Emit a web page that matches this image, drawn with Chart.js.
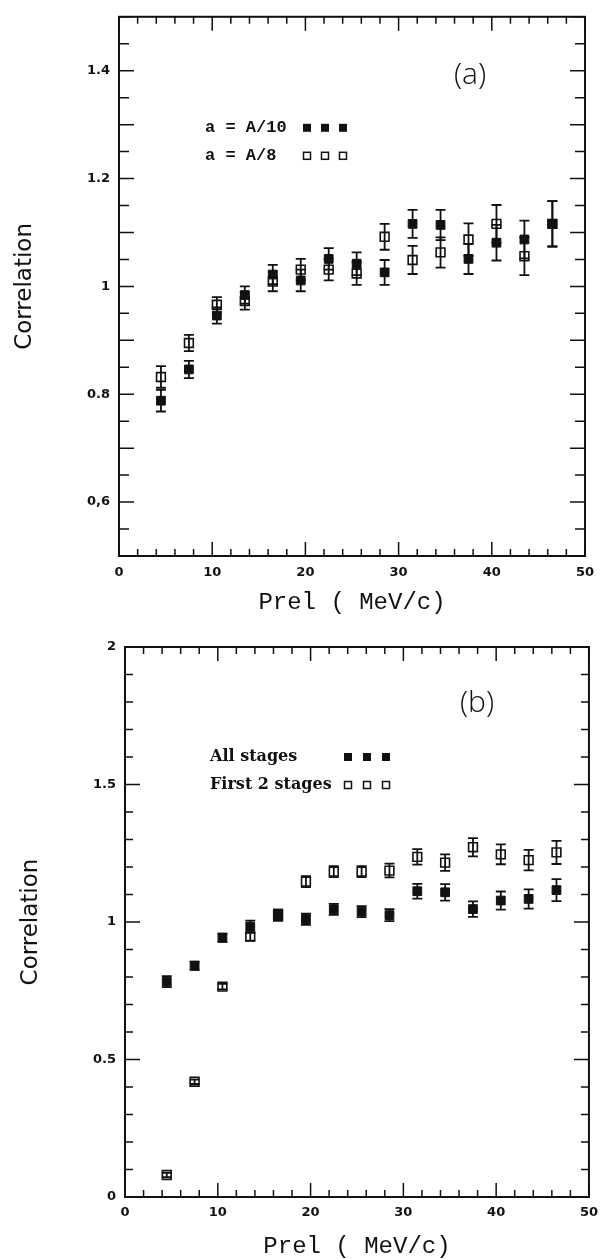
<!DOCTYPE html>
<html>
<head>
<meta charset="utf-8">
<script src="https://cdn.jsdelivr.net/npm/chart.js@4.4.0/dist/chart.umd.min.js"></script>
<style>
  body { margin: 0; background: #fff; }
  #wrap { position: relative; width: 606px; height: 1259px; }
  canvas { position: absolute; left: 0; }
</style>
</head>
<body>
<div id="wrap">
  <canvas id="graficaA" width="606" height="628" style="top:0"></canvas>
  <canvas id="graficaB" width="606" height="631" style="top:628px"></canvas>
</div>
<script>
// momento relativo (MeV/c), igual para todas las series
const prel = [4.5, 7.5, 10.5, 13.5, 16.5, 19.5, 22.5, 25.5, 28.5, 31.5, 34.5, 37.5, 40.5, 43.5, 46.5]

// panel (a)
const seriesA = ['a = A/10', 'a = A/8']
const a10 = [0.788, 0.846, 0.946, 0.984, 1.022, 1.011, 1.051, 1.042, 1.026, 1.116, 1.114, 1.051, 1.081, 1.087, 1.116]
const a10Err = [0.02, 0.016, 0.015, 0.016, 0.018, 0.02, 0.02, 0.021, 0.023, 0.026, 0.028, 0.028, 0.033, 0.035, 0.042]
const a8 = [0.832, 0.895, 0.966, 0.973, 1.009, 1.031, 1.031, 1.024, 1.092, 1.049, 1.063, 1.087, 1.116, 1.056, 1.116]
const a8Err = [0.02, 0.015, 0.014, 0.016, 0.018, 0.02, 0.02, 0.021, 0.024, 0.026, 0.028, 0.03, 0.035, 0.035, 0.042]
const ticksA = [0.6, 0.8, 1, 1.2, 1.4]
const etiquetasA = ['0,6', '0.8', '1', '1.2', '1.4']

// panel (b)
const seriesB = ['All stages', 'First 2 stages']
const todas = [0.783, 0.841, 0.943, 0.983, 1.025, 1.010, 1.046, 1.038, 1.025, 1.112, 1.108, 1.047, 1.078, 1.084, 1.116]
const todasErr = [0.02, 0.015, 0.015, 0.022, 0.02, 0.02, 0.02, 0.02, 0.022, 0.027, 0.03, 0.028, 0.033, 0.035, 0.04]
const primeras = [0.080, 0.419, 0.765, 0.947, 1.025, 1.147, 1.183, 1.183, 1.187, 1.237, 1.216, 1.272, 1.246, 1.225, 1.253]
const primerasErr = [0.008, 0.008, 0.01, 0.015, 0.02, 0.02, 0.02, 0.02, 0.025, 0.028, 0.03, 0.033, 0.036, 0.037, 0.042]
const ticksB = [0, 0.5, 1, 1.5, 2]
const etiquetasB = ['0', '0.5', '1', '1.5', '2']

const negro = '#111'

function puntos(ys) {
    return ys.map((y, i) => ({ x: prel[i], y: y }))
}

// marco con marcas hacia dentro, barras de error, leyenda y letra del panel
const marco = {
    id: 'marco',
    beforeDatasetsDraw(chart) {
        const ctx = chart.ctx
        const xs = chart.scales.x
        const ys = chart.scales.y
        ctx.save()
        ctx.strokeStyle = negro
        ctx.lineWidth = 1.8
        chart.data.datasets.forEach(ds => {
            ds.data.forEach((p, i) => {
                const e = ds.errores[i]
                const px = xs.getPixelForValue(p.x)
                const yt = ys.getPixelForValue(p.y + e)
                const yb = ys.getPixelForValue(p.y - e)
                ctx.beginPath()
                ctx.moveTo(px, yt)
                ctx.lineTo(px, yb)
                ctx.moveTo(px - 5, yt)
                ctx.lineTo(px + 5, yt)
                ctx.moveTo(px - 5, yb)
                ctx.lineTo(px + 5, yb)
                ctx.stroke()
            })
        })
        ctx.restore()
    },
    afterDraw(chart, args, op) {
        const ctx = chart.ctx
        const { left, right, top, bottom } = chart.chartArea
        const xs = chart.scales.x
        const ys = chart.scales.y
        ctx.save()
        ctx.strokeStyle = negro
        ctx.lineWidth = 2
        ctx.strokeRect(left, top, right - left, bottom - top)

        ctx.lineWidth = 1.5
        ctx.beginPath()
        for (let k = 0; k <= 25; k++) {
            const v = k * 2
            const px = xs.getPixelForValue(v)
            const len = v % 10 === 0 ? 14 : 7
            ctx.moveTo(px, bottom)
            ctx.lineTo(px, bottom - len)
            ctx.moveTo(px, top)
            ctx.lineTo(px, top + len)
        }
        const n = Math.round((ys.max - ys.min) / op.yPaso)
        for (let k = 0; k <= n; k++) {
            const v = ys.min + k * op.yPaso
            const r = v / op.yMayor
            const len = Math.abs(r - Math.round(r)) < 1e-6 ? 15 : op.yMenor
            const py = ys.getPixelForValue(v)
            ctx.moveTo(left, py)
            ctx.lineTo(left + len, py)
            ctx.moveTo(right, py)
            ctx.lineTo(right - len, py)
        }
        ctx.stroke()

        // leyenda
        ctx.fillStyle = negro
        ctx.font = op.fuente
        ctx.textBaseline = 'middle'
        op.textos.forEach((t, i) => {
            const y = top + op.filaY[i]
            ctx.fillText(t, left + op.textoX, y)
            op.cuadrosX.forEach(cx => {
                const x = left + cx
                if (i === 0) {
                    ctx.fillRect(x - 4, y - 4, 8, 8)
                } else {
                    ctx.lineWidth = 1.5
                    ctx.strokeRect(x - 3.5, y - 3.5, 7, 7)
                }
            })
        })

        ctx.font = '300 30px "Open Sans"'
        ctx.textAlign = 'center'
        ctx.fillText(op.letra, left + op.letraX, top + op.letraY)
        ctx.restore()
    }
}

function crearGrafica(id, cfg) {
    return new Chart(document.getElementById(id), {
        type: 'scatter',
        data: {
            datasets: [{
                data: puntos(cfg.lleno),
                errores: cfg.llenoErr,
                pointStyle: 'rect',
                pointRadius: 6.2,
                backgroundColor: negro,
                borderColor: negro,
                borderWidth: 1
            }, {
                data: puntos(cfg.abierto),
                errores: cfg.abiertoErr,
                pointStyle: 'rect',
                pointRadius: 6.2,
                backgroundColor: 'rgba(0,0,0,0)',
                borderColor: negro,
                borderWidth: 1.6
            }]
        },
        options: {
            responsive: false,
            animation: false,
            devicePixelRatio: 1,
            layout: { padding: cfg.padding },
            plugins: {
                legend: { display: false },
                tooltip: { enabled: false },
                marco: cfg.marco
            },
            scales: {
                x: {
                    type: 'linear',
                    min: 0,
                    max: 50,
                    grid: { display: false, drawTicks: false },
                    border: { display: false },
                    ticks: {
                        stepSize: 10,
                        padding: cfg.xPad,
                        color: negro,
                        font: { family: 'DejaVu Sans', size: 13, weight: 'bold' }
                    },
                    title: {
                        display: true,
                        text: 'Prel ( MeV/c)',
                        color: negro,
                        font: { family: 'Liberation Mono', size: 24, lineHeight: 1 },
                        padding: { top: 0, bottom: cfg.xTitPad }
                    },
                    afterFit: s => { s.height = cfg.xAlto }
                },
                y: {
                    min: cfg.yMin,
                    max: cfg.yMax,
                    grid: { display: false, drawTicks: false },
                    border: { display: false },
                    afterBuildTicks: s => { s.ticks = cfg.ticks.map(v => ({ value: v })) },
                    ticks: {
                        padding: 9,
                        color: negro,
                        font: { family: 'DejaVu Sans', size: 13, weight: 'bold' },
                        callback: (v, i) => cfg.etiquetas[i]
                    },
                    title: {
                        display: true,
                        text: 'Correlation',
                        color: negro,
                        font: { family: 'DejaVu Sans', size: 23, lineHeight: 1 },
                        padding: { top: cfg.yTitPad, bottom: 0 }
                    },
                    afterFit: s => { s.width = cfg.yAncho }
                }
            }
        },
        plugins: [marco]
    })
}

crearGrafica('graficaA', {
    lleno: a10, llenoErr: a10Err, abierto: a8, abiertoErr: a8Err,
    ticks: ticksA, etiquetas: etiquetasA, yMin: 0.5, yMax: 1.5,
    padding: { top: 4, right: 21, left: 0, bottom: 0 },
    yAncho: 119, xAlto: 72, xPad: 9, xTitPad: 13, yTitPad: 13.5,
    marco: {
        yPaso: 0.05, yMayor: 0.1, yMenor: 10,
        textos: seriesA, fuente: 'bold 17px "Liberation Mono"',
        textoX: 86, filaY: [111, 139], cuadrosX: [188, 206, 224],
        letra: '(a)', letraX: 351, letraY: 59
    }
})

crearGrafica('graficaB', {
    lleno: todas, llenoErr: todasErr, abierto: primeras, abiertoErr: primerasErr,
    ticks: ticksB, etiquetas: etiquetasB, yMin: 0, yMax: 2,
    padding: { top: 19, right: 15, left: 0, bottom: 0 },
    yAncho: 125, xAlto: 62, xPad: 8, xTitPad: 0, yTitPad: 19.5,
    marco: {
        yPaso: 0.1, yMayor: 0.5, yMenor: 8,
        textos: seriesB, fuente: 'bold 16px "DejaVu Serif"',
        textoX: 85, filaY: [110, 138], cuadrosX: [223, 242, 261],
        letra: '(b)', letraX: 352, letraY: 56
    }
})
</script>
</body>
</html>
